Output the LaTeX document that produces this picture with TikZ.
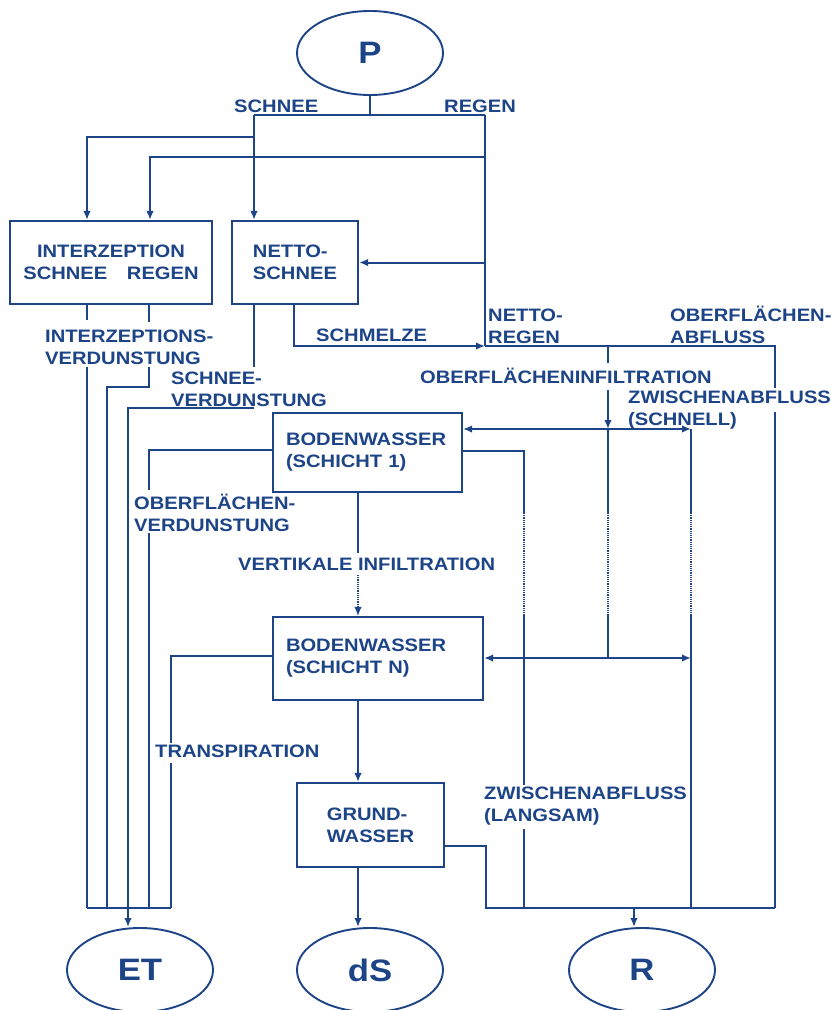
\documentclass[tikz,border=0pt]{standalone}
\usepackage{fontspec}
\setmainfont{Liberation Sans}[FakeStretch=1.12]
\usetikzlibrary{arrows.meta,shapes.geometric}
\definecolor{hb}{RGB}{28,68,135}
\newcommand\lbst{\rule{0pt}{17pt}}
\begin{document}
\begin{tikzpicture}[x=1pt,y=-1pt,
  ln/.style={draw=hb,line width=2pt},
  ar/.style={draw=hb,line width=2pt,-{Latex[length=9pt,width=7.5pt]}},
  dt/.style={draw=hb,line width=1.2pt,densely dotted},
  box/.style={draw=hb,line width=2.2pt,rectangle,inner sep=0pt,text=hb,font=\bfseries\fontsize{18}{22}\selectfont},
  ell/.style={draw=hb,line width=1.9pt,ellipse,inner sep=0pt,minimum width=146pt,minimum height=84pt,text=hb,font=\bfseries\fontsize{31}{31}\selectfont},
  lab/.style={anchor=north west,inner sep=0pt,yshift=17pt,align=left,text=hb,font=\bfseries\fontsize{18}{22}\selectfont},
]
\fill[white] (0,0) rectangle (834,1010);
\useasboundingbox (0,0) rectangle (834,1010);

% nodes
\node[ell] (P) at (370,53) {P};
\node[box,minimum width=202pt,minimum height=83pt,align=center] (ib) at (111,262.5) {INTERZEPTION\\SCHNEE\hspace{14pt} REGEN};
\node[box,minimum width=126pt,minimum height=83pt,align=left] (ns) at (295,262.5) {NETTO-\\SCHNEE};
\node[box,minimum width=189pt,minimum height=79pt,align=left,text width=163pt] (b1) at (367.5,452.5) {BODENWASSER\\(SCHICHT 1)};
\node[box,minimum width=210pt,minimum height=83pt,align=left,text width=184pt] (bn) at (378,658.5) {BODENWASSER\\(SCHICHT N)};
\node[box,minimum width=147pt,minimum height=84pt,align=left] (gw) at (370.5,825) {GRUND-\\WASSER};
\node[ell] (ET) at (140,970) {ET};
\node[ell] (dS) at (370,970) {dS};
\node[ell] (R) at (642,970) {R};

% precipitation split
\coordinate (sp) at (370,115);
\coordinate (sn) at (254,115);
\coordinate (rg) at (485,115);
\draw[ln] (P.south) -- (sp);
\draw[ln] (sn) -- (rg);
\draw[ar] (sn) -- (sn |- ns.north);
\draw[ar] (254,137) -- (87,137) -- (87,137 |- ib.north);
\draw[ln] (rg) -- (485,346);
\draw[ar] (485,157) -- (150,157) -- (150,157 |- ib.north);
\draw[ar] (485,262.5) -- (ns.east);

% interception evaporation
\draw[ln] (87,0 |- ib.south) -- (87,320);
\draw[ln] (87,367) -- (87,908);
\draw[ln] (149,0 |- ib.south) -- (149,322);
\draw[ln] (149,367) -- (149,387) -- (107,387) -- (107,908);

% net snow
\coordinate (nr) at (485,346);
\draw[ar] (294,0 |- ns.south) -- (294,346) -- (nr);
\draw[ln] (254,0 |- ns.south) -- (254,367);
\draw[ln] (254,408) -- (128,408) -- (128,908);
\coordinate (etj) at (128,908);
\draw[ar] (etj) -- (etj |- ET.north);
\draw[ln] (87,908) -- (171,908);

% net rain
\draw[ln] (nr) -- (775,346) -- (775,388);
\draw[ln] (775,412) -- (775,908);
\draw[ln] (608,346) -- (608,363);
\coordinate (j1) at (608,429);
\coordinate (j2) at (608,658);
\draw[ar] (608,390) -- (j1);
\draw[ar] (j1) -- (b1.east |- j1);
\draw[ar] (j1) -- (691,429);
\draw[ln] (j1) -- (608,513);
\draw[dt] (608,513) -- (608,615);
\draw[ln] (608,615) -- (j2);
\draw[ar] (j2) -- (bn.east |- j2);
\draw[ar] (j2) -- (691,658);

% fast interflow
\draw[ln] (691,429) -- (691,513);
\draw[dt] (691,513) -- (691,615);
\draw[ln] (691,615) -- (691,908);

% soil layer 1
\draw[ln] (b1.east |- 0,451) -- (524,451) -- (524,513);
\draw[dt] (524,513) -- (524,615);
\draw[ln] (524,615) -- (524,785);
\draw[ln] (524,829) -- (524,908);
\draw[ln] (b1.west |- 0,450) -- (149,450) -- (149,490);
\draw[ln] (149,533) -- (149,908);
\draw[ln] (358,0 |- b1.south) -- (358,553);
\draw[dt,-{Latex[length=9pt,width=7.5pt]}] (358,575) -- (358,0 |- bn.north);

% soil layer N
\draw[ln] (bn.west |- 0,656) -- (171,656) -- (171,743);
\draw[ln] (171,763) -- (171,908);
\draw[ar] (358,0 |- bn.south) -- (358,0 |- gw.north);
\draw[ar] (358,0 |- gw.south) -- (358,0 |- dS.north);

% groundwater and runoff
\draw[ln] (gw.east |- 0,846) -- (486,846) -- (486,908) -- (775,908);
\coordinate (rj) at (634,908);
\draw[ar] (rj) -- (rj |- R.north);

% labels
\node[lab] (lSchnee) at (234,112) {\lbst SCHNEE};
\node[lab] (lRegen) at (444,112) {\lbst REGEN};
\node[lab] (lIV) at (45,342) {\lbst INTERZEPTIONS-\\VERDUNSTUNG};
\node[lab] (lSm) at (316,341) {\lbst SCHMELZE};
\node[lab] (lSV) at (171,384) {\lbst SCHNEE-\\VERDUNSTUNG};
\node[lab] (lNR) at (488,321) {\lbst NETTO-\\REGEN};
\node[lab] (lOA) at (670,321) {\lbst OBERFLÄCHEN-\\ABFLUSS};
\node[lab] (lOI) at (420,383) {\lbst OBERFLÄCHENINFILTRATION};
\node[lab] (lZS) at (628,403) {\lbst ZWISCHENABFLUSS\\(SCHNELL)};
\node[lab] (lOV) at (134,509.5) {\lbst OBERFLÄCHEN-\\VERDUNSTUNG};
\node[lab] (lVI) at (238,570.5) {\lbst VERTIKALE INFILTRATION};
\node[lab] (lTr) at (155,757.5) {\lbst TRANSPIRATION};
\node[lab] (lZL) at (484,799.5) {\lbst ZWISCHENABFLUSS\\(LANGSAM)};
\end{tikzpicture}
\end{document}
